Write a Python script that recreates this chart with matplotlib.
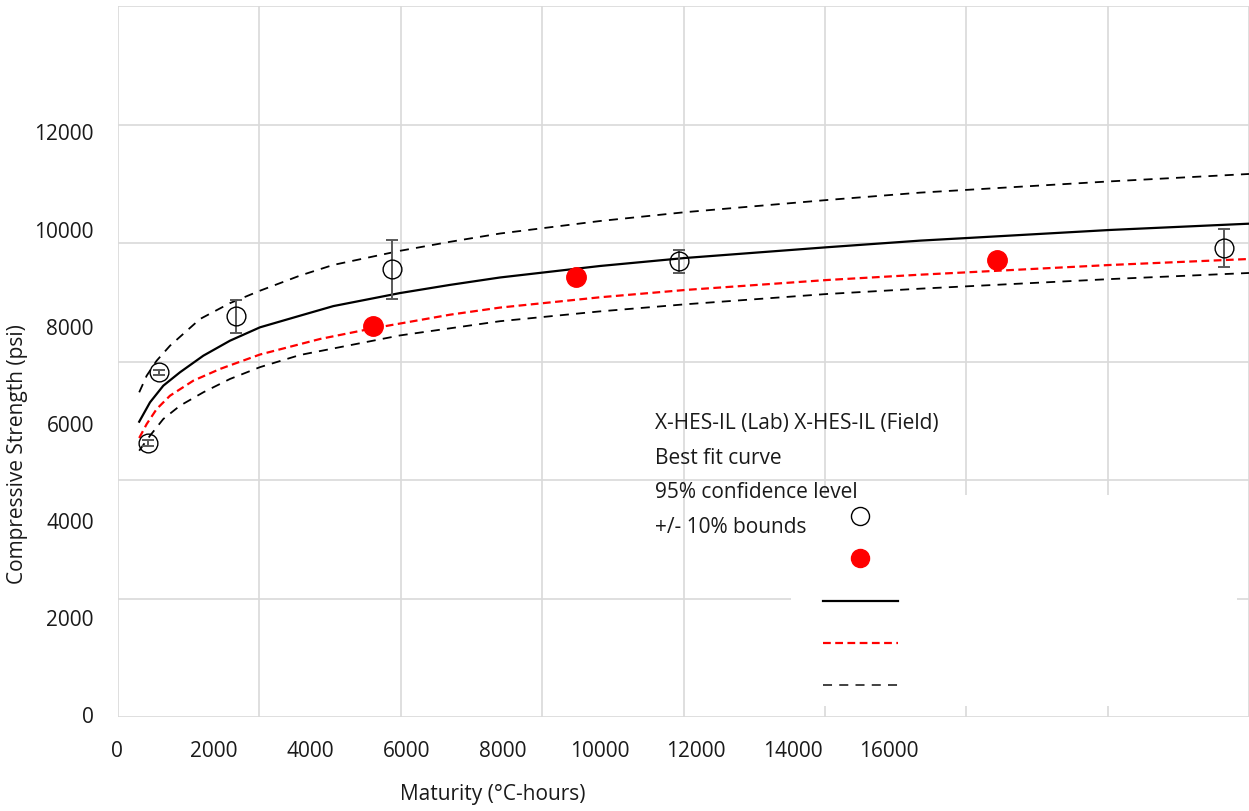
import matplotlib.pyplot as plt
from matplotlib.patches import Rectangle
from matplotlib.lines import Line2D

plt.rcParams['font.family'] = ['Open Sans', 'DejaVu Sans']

# best fit curve
fit_x = [300, 453, 641, 877, 1207, 1584, 2009, 2575, 3046, 3989, 4697, 5404,
         6819, 8021, 10026, 11346, 12025, 14034, 16000]
fit_y = [4984, 5311, 5592, 5818, 6098, 6351, 6577, 6773, 6935, 7155, 7293, 7418,
         7612, 7747, 7928, 8040, 8085, 8220, 8326]

# +10% bound
upper_x = [300, 406, 547, 736, 1160, 1584, 2009, 2575, 3046, 3989, 4697, 5404, 6819,
           8021, 10026, 11346, 14034, 16000]
upper_y = [5480, 5761, 6014, 6267, 6717, 6985, 7195, 7450, 7630, 7868, 8020, 8160, 8371,
           8520, 8725, 8850, 9040, 9165]

# -10% bound
lower_x = [300, 453, 641, 877, 1207, 1584, 2009, 2575, 3989, 5404, 6819, 8021,
           10026, 11346, 12025, 14034, 16000]
lower_y = [4495, 4748, 5030, 5254, 5480, 5705, 5905, 6110, 6440, 6680, 6846, 6965,
           7139, 7229, 7270, 7391, 7494]

# 95% confidence level
conf_x = [300, 406, 547, 736, 1065, 1443, 2009, 2858, 3607, 4697, 5404, 6819,
          8021, 10026, 11346, 12025, 14034, 16000]
conf_y = [4709, 4945, 5198, 5423, 5676, 5874, 6118, 6380, 6560, 6790, 6910, 7084,
          7207, 7375, 7465, 7506, 7629, 7730]

lab_x = [429, 584, 1669, 3872, 7932, 15642]
lab_y = [4625, 5818, 6763, 7561, 7691, 7916]
lab_err = [50, 45, 281, 498, 189, 315]

field_x = [3612, 6480, 12440]
field_y = [6605, 7421, 7719]

xtick_labels = ['0', '2000', '4000', '6000', '8000', '10000', '12000', '14000', '16000']
ytick_labels = ['0', '2000', '4000', '6000', '8000', '10000', '12000']
legend_labels = ['X-HES-IL (Lab) X-HES-IL (Field)', 'Best fit curve',
                 '95% confidence level', '+/- 10% bounds']

W, H = 1249, 812
fig = plt.figure(figsize=(W / 100, H / 100), dpi=100)
ax = fig.add_axes([118 / W, (H - 718) / H, (W - 118) / W, 711 / H])
ax.set_xlim(0, 16000)
ax.set_ylim(0, 12000)
ax.set_xticks(range(0, 16001, 2000))
ax.set_yticks(range(0, 12001, 2000))
ax.tick_params(length=0, labelbottom=False, labelleft=False)
ax.grid(color='#d9d9d9', linewidth=1.2)
for s in ax.spines.values():
    s.set_visible(False)

ax.plot(upper_x, upper_y, color='black', lw=1.3, ls=(0, (5, 4)))
ax.plot(lower_x, lower_y, color='black', lw=1.3, ls=(0, (5, 4)))
ax.plot(conf_x, conf_y, color='red', lw=1.6, ls=(0, (3.5, 2)))
ax.plot(fit_x, fit_y, color='black', lw=1.6)
ax.errorbar(lab_x, lab_y, yerr=lab_err, fmt='none', ecolor='#595959',
            elinewidth=1.4, capsize=4.2, capthick=1.4)
ax.plot(lab_x, lab_y, 'o', mfc='none', mec='black', ms=13.5, mew=1)
ax.plot(field_x, field_y, 'o', color='red', ms=14, mec='red')

# overlay in pixel coordinates for labels and legend
ov = fig.add_axes([0, 0, 1, 1])
ov.set_xlim(0, W)
ov.set_ylim(H, 0)
ov.axis('off')
ov.patch.set_alpha(0)

fs = 15
for i, lab in enumerate(ytick_labels):
    ov.text(94, 718 - i * 97.2, lab, ha='right', va='center', fontsize=fs, color='#1a1a1a')
for i, lab in enumerate(xtick_labels):
    ov.text(117 + i * 96.5, 752, lab, ha='center', va='center', fontsize=fs, color='#1a1a1a')
ov.text(493, 795, 'Maturity (°C-hours)', ha='center', va='center', fontsize=fs, color='#1a1a1a')
ov.text(18, 454, 'Compressive Strength (psi)', ha='center', va='center',
        rotation=90, fontsize=fs, color='#1a1a1a')

ov.add_patch(Rectangle((791, 496), 446, 211, facecolor='white', edgecolor='none'))
for i, lab in enumerate(legend_labels):
    ov.text(655, 424 + i * 34.5, lab, ha='left', va='center', fontsize=fs, color='#1a1a1a')
ov.plot([860], [517], 'o', mfc='white', mec='black', ms=13, mew=1)
ov.plot([860], [559], 'o', color='red', ms=13)
ov.add_line(Line2D([823, 898], [602, 602], color='black', lw=1.6))
ov.add_line(Line2D([823, 898], [644, 644], color='red', lw=1.6, ls=(0, (3.5, 2))))
ov.add_line(Line2D([823, 898], [686, 686], color='#333333', lw=1.3, ls=(0, (5, 4))))

fig.savefig('out.png', dpi=100)
